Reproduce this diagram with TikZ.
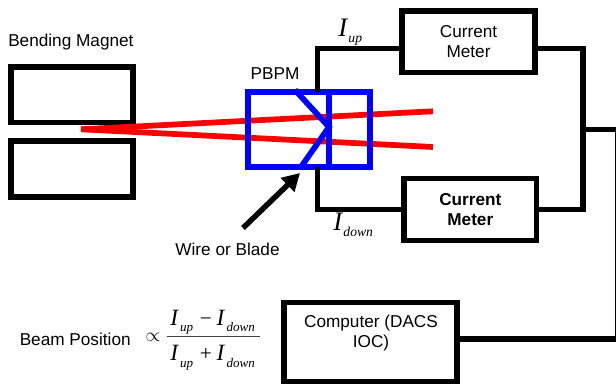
\documentclass[tikz,border=0pt]{standalone}
\usepackage{fontspec}
\setmainfont{Liberation Sans}
\newfontfamily\serifit[Ligatures=TeX]{Liberation Serif}
\usetikzlibrary{arrows.meta}
\newcommand{\Iit}[1]{{\fontsize{20}{20}\selectfont\serifit\itshape I}\hspace{1pt}{\fontsize{10.2}{10.2}\selectfont\serifit\itshape\raisebox{-4.5pt}{#1}}}
\newcommand{\Ieq}[1]{{\fontsize{17.5}{17.5}\selectfont\serifit\itshape I}\hspace{1.5pt}{\fontsize{9.8}{9.8}\selectfont\serifit\itshape\raisebox{-5pt}{#1}}}
\newcommand{\Opr}[1]{\hspace{5pt}{\fontsize{16}{16}\selectfont\serifit #1}\hspace{3.7pt}}
\tikzset{
  blk/.style={draw=black,line width=4.1pt,fill=white,align=center,font=\fontsize{12.9}{15}\selectfont,inner sep=0pt},
  wire/.style={draw=black,line width=4.1pt},
  pbpm/.style={draw=blue,line width=4.3pt},
  beam/.style={draw=red,line width=4.3pt},
  lbl/.style={font=\fontsize{12.9}{15}\selectfont,inner sep=0pt,align=center},
}
\begin{document}
\begin{tikzpicture}[x=0.75pt,y=-0.75pt]
\useasboundingbox (0,0) rectangle (616,384);
% magnets
\node[blk,minimum width=91.5pt,minimum height=41.8pt] (magU) at (72,94.9) {};
\node[blk,minimum width=91.5pt,minimum height=42pt] (magL) at (72,169) {};
\node[lbl,anchor=west] (bm) at (8,42.5) {Bending Magnet};
% beam
\coordinate (src) at (81,129.3);
\coordinate (bu) at (433,111.3);
\coordinate (bd) at (433,147);
\draw[beam] (src) -- (bu);
\draw[beam] (src) -- (bd);
% PBPM
\node[pbpm,minimum width=91.5pt,minimum height=56.2pt,inner sep=0pt] (pb) at (309,129.5) {};
\coordinate (pbT) at (329,92);
\coordinate (pbB) at (329,167);
\coordinate (bl1) at (295,90);
\coordinate (apex) at (329,127);
\coordinate (bl2) at (301,167);
\draw[pbpm] (pbT) -- (pbB);
\draw[pbpm,line join=miter] (bl1) -- (apex) -- (bl2);
\node[lbl] (pl) at (275,74) {PBPM};
% meters
\node[blk,minimum width=99.75pt,minimum height=46.3pt] (m1) at (468.5,41.9) {Current\\Meter};
\node[blk,minimum width=99.4pt,minimum height=46.3pt,font=\fontsize{12.9}{15}\selectfont\bfseries] (m2) at (470.3,209.6) {Current\\Meter};
\node[blk,minimum width=130pt,minimum height=58.9pt] (pc) at (370.5,342) {};
\node[lbl] (pct) at (371,333) {Computer (DACS\\IOC)};
% wires
\coordinate (wT) at (317.5,92);
\coordinate (wTc) at (317.5,48.3);
\coordinate (wB) at (317.5,167);
\coordinate (wBc) at (317.5,209.5);
\coordinate (rT) at (583,48.3);
\coordinate (rB) at (583,209.5);
\coordinate (rM) at (583,129.3);
\coordinate (eM) at (617.5,129.3);
\coordinate (eB) at (617.5,339);
\draw[wire] (wT) -- (wTc) -- (m1.west |- wTc);
\draw[wire] (wB) -- (wBc) -- (m2.west |- wBc);
\draw[wire] (m1.east |- rT) -- (rT) -- (rB) -- (m2.east |- rB);
\draw[wire] (rM) -- (eM) -- (eB) -- (pc.east |- eB);
\node[inner sep=0pt,anchor=base west] (iu) at (338,37) {\Iit{up}};
\node[inner sep=0pt,anchor=base west] (id) at (333,231) {\Iit{down}};
% arrow
\coordinate (at) at (243,228);
\coordinate (ah) at (300,173);
\draw[wire,-{Triangle[length=13pt,width=14pt]}] (at) -- (ah);
\node[lbl] (wb) at (227.5,249) {Wire or Blade};
% formula
\node[lbl,anchor=west] (bp) at (19.5,339) {Beam Position};
\node[inner sep=0pt] (pr) at (153,337) {\fontsize{15.5}{15.5}\selectfont$\propto$};
\node[inner sep=0pt,anchor=base west] (num) at (170,325) {\Ieq{up}\Opr{−}\Ieq{down}};
\node[inner sep=0pt,anchor=base west] (den) at (170,360.7) {\Ieq{up}\Opr{+}\Ieq{down}};
\coordinate (fl) at (167,336.8);
\coordinate (fr) at (260,336.8);
\draw[line width=0.8pt,black!75] (fl) -- (fr);
\end{tikzpicture}
\end{document}
